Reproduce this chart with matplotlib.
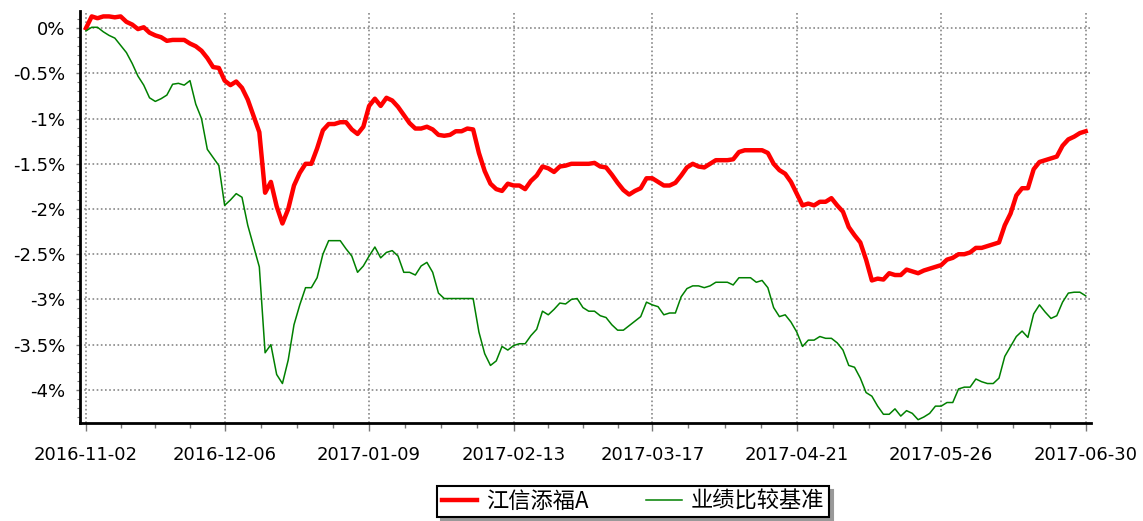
import numpy as np
import matplotlib.pyplot as plt
from matplotlib.font_manager import FontProperties
from matplotlib.ticker import FixedLocator, MultipleLocator

# cumulative return (%) per data point
fund = [0.00, 0.13, 0.11, 0.13, 0.13, 0.12, 0.13, 0.07, 0.04, -0.01,
        0.01, -0.05, -0.08, -0.10, -0.14, -0.13, -0.13, -0.13, -0.17, -0.20,
        -0.25, -0.33, -0.43, -0.44, -0.58, -0.63, -0.59, -0.66, -0.79, -0.97,
        -1.15, -1.82, -1.70, -1.97, -2.16, -2.00, -1.74, -1.60, -1.50, -1.50,
        -1.33, -1.13, -1.06, -1.06, -1.04, -1.04, -1.12, -1.17, -1.09, -0.86,
        -0.78, -0.86, -0.77, -0.80, -0.87, -0.96, -1.05, -1.11, -1.11, -1.09,
        -1.12, -1.18, -1.19, -1.18, -1.14, -1.14, -1.11, -1.12, -1.38, -1.58,
        -1.72, -1.78, -1.80, -1.72, -1.74, -1.74, -1.78, -1.69, -1.63, -1.53,
        -1.55, -1.59, -1.53, -1.52, -1.50, -1.50, -1.50, -1.50, -1.49, -1.53,
        -1.54, -1.62, -1.71, -1.79, -1.84, -1.80, -1.77, -1.66, -1.66, -1.70,
        -1.74, -1.74, -1.71, -1.63, -1.54, -1.50, -1.53, -1.54, -1.50, -1.46,
        -1.46, -1.46, -1.45, -1.37, -1.35, -1.35, -1.35, -1.35, -1.38, -1.50,
        -1.57, -1.61, -1.70, -1.83, -1.96, -1.94, -1.96, -1.92, -1.92, -1.88,
        -1.96, -2.03, -2.20, -2.29, -2.37, -2.56, -2.79, -2.77, -2.78, -2.71,
        -2.73, -2.73, -2.67, -2.69, -2.71, -2.68, -2.66, -2.64, -2.62, -2.56,
        -2.54, -2.50, -2.50, -2.48, -2.43, -2.43, -2.41, -2.39, -2.37, -2.18,
        -2.05, -1.85, -1.77, -1.77, -1.56, -1.48, -1.46, -1.44, -1.42, -1.30,
        -1.23, -1.20, -1.16, -1.14]

bench = [-0.03, 0.01, 0.01, -0.04, -0.08, -0.11, -0.19, -0.27, -0.39, -0.53,
         -0.63, -0.77, -0.81, -0.78, -0.74, -0.62, -0.61, -0.63, -0.58, -0.84,
         -1.00, -1.34, -1.43, -1.52, -1.96, -1.90, -1.83, -1.87, -2.18, -2.41,
         -2.64, -3.59, -3.50, -3.83, -3.93, -3.67, -3.28, -3.06, -2.87, -2.87,
         -2.76, -2.50, -2.35, -2.35, -2.35, -2.44, -2.52, -2.70, -2.63, -2.52,
         -2.42, -2.54, -2.48, -2.46, -2.52, -2.70, -2.70, -2.73, -2.63, -2.59,
         -2.70, -2.93, -2.99, -2.99, -2.99, -2.99, -2.99, -2.99, -3.36, -3.60,
         -3.73, -3.68, -3.52, -3.56, -3.51, -3.49, -3.49, -3.40, -3.33, -3.13,
         -3.17, -3.11, -3.04, -3.05, -3.00, -2.99, -3.09, -3.13, -3.13, -3.18,
         -3.20, -3.28, -3.34, -3.34, -3.29, -3.24, -3.19, -3.03, -3.06, -3.08,
         -3.17, -3.15, -3.15, -2.97, -2.88, -2.85, -2.85, -2.87, -2.85, -2.81,
         -2.81, -2.81, -2.84, -2.76, -2.76, -2.76, -2.81, -2.79, -2.87, -3.09,
         -3.19, -3.17, -3.25, -3.36, -3.52, -3.45, -3.45, -3.41, -3.43, -3.43,
         -3.48, -3.56, -3.73, -3.75, -3.87, -4.03, -4.07, -4.18, -4.27, -4.27,
         -4.21, -4.29, -4.23, -4.26, -4.33, -4.30, -4.26, -4.18, -4.18, -4.14,
         -4.14, -3.99, -3.97, -3.97, -3.88, -3.91, -3.93, -3.93, -3.87, -3.63,
         -3.52, -3.41, -3.35, -3.42, -3.16, -3.06, -3.14, -3.21, -3.18, -3.03,
         -2.93, -2.92, -2.92, -2.96]

# date labels and the data point each one sits on
tick_idx = [0, 24, 49, 74, 98, 123, 148, 173]
tick_labels = ['2016-11-02', '2016-12-06', '2017-01-09', '2017-02-13',
               '2017-03-17', '2017-04-21', '2017-05-26', '2017-06-30']

y_ticks = [0, -0.5, -1, -1.5, -2, -2.5, -3, -3.5, -4]
y_labels = ['0%', '-0.5%', '-1%', '-1.5%', '-2%', '-2.5%', '-3%', '-3.5%', '-4%']

names = ['江信添福A', '业绩比较基准']

plt.rcParams['font.family'] = ['DejaVu Sans']

fig = plt.figure(figsize=(11.43, 5.21), dpi=100)
ax = fig.add_axes([0.0704, 0.1875, 0.884, 0.7914])

x = np.arange(len(fund))
ax.plot(x, fund, color='#ff0000', lw=3.2, label=names[0], zorder=3,
        solid_joinstyle='round')
ax.plot(x, bench, color='#008000', lw=1.1, label=names[1], zorder=3)

ax.set_xlim(-0.95, 173.9)
ax.set_ylim(-4.37, 0.19)

# x ticks: majors at the labelled dates, 3 minors between each pair
ax.xaxis.set_major_locator(FixedLocator(tick_idx))
ax.set_xticklabels(tick_labels)
minor = []
for a, b in zip(tick_idx[:-1], tick_idx[1:]):
    minor += [a + (b - a) * k / 4 for k in (1, 2, 3)]
ax.xaxis.set_minor_locator(FixedLocator(minor))

ax.set_yticks(y_ticks)
ax.set_yticklabels(y_labels)
ax.yaxis.set_minor_locator(MultipleLocator(0.1))

ax.tick_params(axis='x', which='major', length=6, width=1, color='#777777',
               pad=10.5, labelsize=13)
ax.tick_params(axis='x', which='minor', length=3.5, width=1, color='#777777')
ax.tick_params(axis='y', which='major', length=3, width=1, color='#777777',
               pad=8, labelsize=13)
ax.tick_params(axis='y', which='minor', length=2, width=0.8, color='#777777')

ax.grid(True, which='major', color='#888888', linestyle=(0, (1, 1.5)),
        linewidth=1.2)

for s in ['top', 'right']:
    ax.spines[s].set_visible(False)
for s in ['left', 'bottom']:
    ax.spines[s].set_linewidth(2)
    ax.spines[s].set_color('black')

leg = fig.legend(loc='center', bbox_to_anchor=(0.5538, 0.0374), ncol=2,
                 prop=FontProperties(family=['Noto Sans CJK SC', 'DejaVu Sans'], size=16),
                 frameon=True, fancybox=False, edgecolor='black',
                 shadow={'ox': 3, 'oy': -3, 'color': '#999999', 'alpha': 1},
                 handlelength=1.6, handletextpad=0.4, columnspacing=2.6,
                 borderpad=0.2, borderaxespad=0)
leg.get_frame().set_linewidth(1.5)

fig.savefig('out.png', dpi=100)
